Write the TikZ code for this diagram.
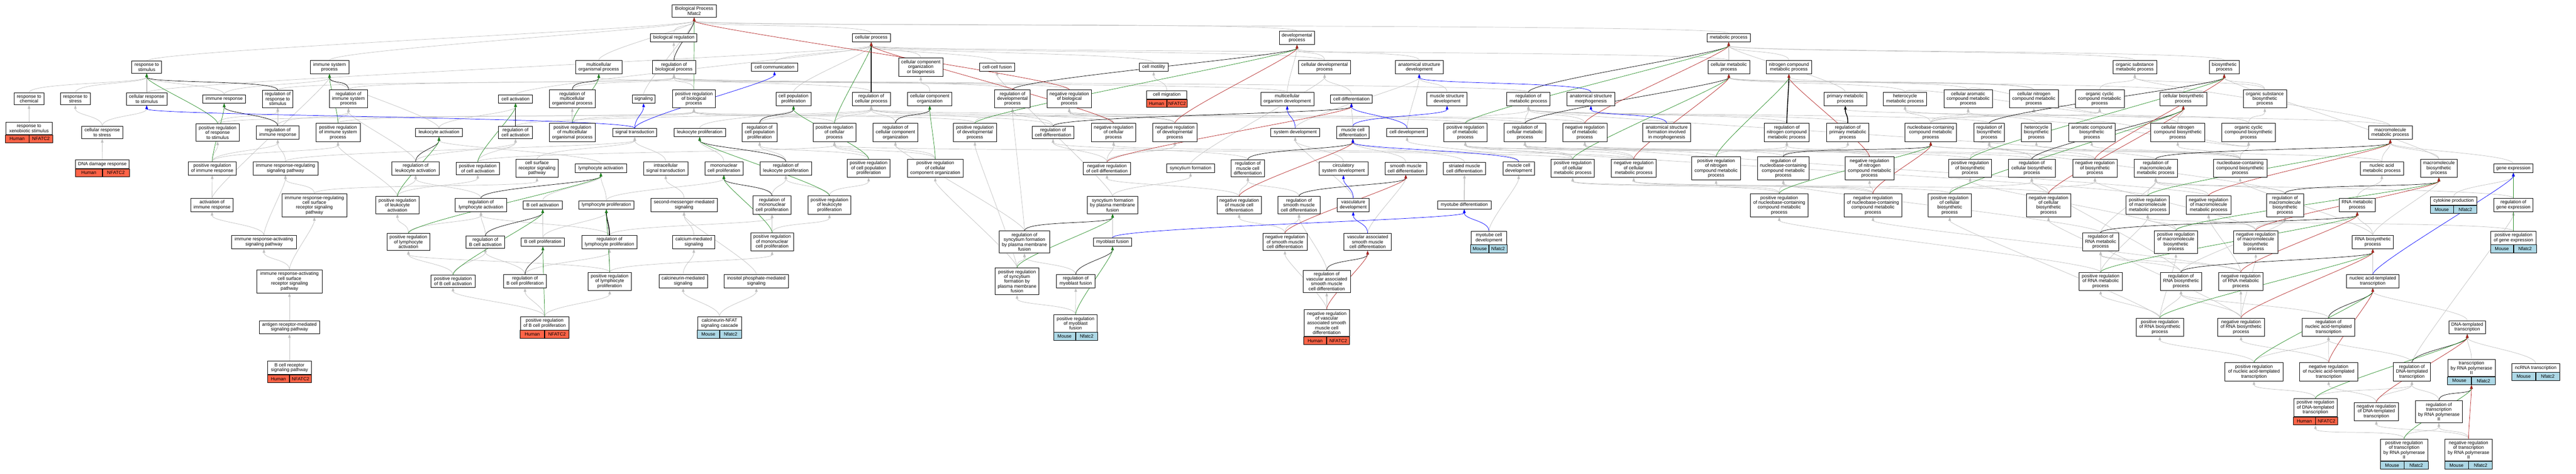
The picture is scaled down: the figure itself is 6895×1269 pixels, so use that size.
\documentclass[tikz,border=0pt]{standalone}
\usepackage{fontspec}
\setmainfont{Liberation Sans}
\usetikzlibrary{arrows.meta,fit}
\definecolor{isagray}{RGB}{192,192,192}
\definecolor{posgreen}{RGB}{34,139,34}
\definecolor{negred}{RGB}{178,34,34}
\definecolor{humanred}{RGB}{255,99,71}
\definecolor{mouseblue}{RGB}{173,216,230}
\newcommand{\gofont}{\fontsize{12.5}{13}\selectfont}
\pgfdeclarelayer{edges}
\pgfsetlayers{edges,main}
\begin{document}
\begin{tikzpicture}[x=1pt,y=1pt,
    term/.style={draw=black, line width=1.1pt, fill=white, align=center, inner xsep=5pt, inner ysep=5.5pt, minimum height=22pt, font=\gofont},
    wd/.style={minimum width=#1pt},
    gcell/.style={draw=black, line width=1.1pt, inner sep=0pt, minimum height=21pt, font=\gofont},
    hcell/.style={gcell, fill=humanred, minimum width=#1pt},
    mcell/.style={gcell, fill=mouseblue, minimum width=#1pt},
    link/.style={line width=1pt, -{Triangle[length=10pt,width=7pt]}},
    isa/.style={link, draw=isagray},
    regby/.style={link, draw=black},
    posreg/.style={link, draw=posgreen},
    negreg/.style={link, draw=negred},
    partof/.style={link, draw=blue}]
\useasboundingbox (0,0) rectangle (6895,-1269);
%Row 0
\node[term, wd=119] (bio_proc) at (1858,-29.5) {Biological Process\\Nfatc2};
%Row 1
\node[term, wd=124] (bio_reg) at (1803.5,-101) {biological regulation};
\node[term, wd=102] (cell_proc) at (2332,-101) {cellular process};
\node[term, wd=95] (development) at (3471.5,-101.5) {developmental\\process};
\node[term, wd=116] (metab_proc) at (4627,-101) {metabolic process};
%Row 2
\node[term, wd=80] (resp_stim) at (392.6,-180) {response to\\stimulus};
\node[term, wd=103] (imm_sys_proc) at (882,-180) {immune system\\process};
\node[term, wd=124] (multicell_org) at (1602.6,-180) {multicellular\\organismal process};
\node[term, wd=115] (reg_bio_proc) at (1804,-180) {regulation of\\biological process};
\node[term, wd=124] (cell_comm) at (2073,-180) {cell communication};
\node[term, wd=119] (cc_org_biogen) at (2464.6,-180) {cellular component\\organization\\or biogenesis};
\node[term, wd=94] (cell_cell_fusion) at (2669,-180) {cell-cell fusion};
\node[term, wd=77] (cell_motility) at (3088,-180) {cell motility};
\node[term, wd=139] (cell_dev_proc) at (3545.4,-180) {cellular developmental\\process};
\node[term, wd=129] (anat_struct_dev) at (3798.7,-180) {anatomical structure\\development};
\node[term, wd=111] (cell_metab) at (4627.4,-180) {cellular metabolic\\process};
\node[term, wd=121] (nitrogen_metab) at (4788.2,-180) {nitrogen compound\\metabolic process};
\node[term, wd=117] (org_subst_metab) at (5714,-180) {organic substance\\metabolic process};
\node[term, wd=80] (biosynth_proc) at (5953.3,-180) {biosynthetic\\process};
%Row 3
\node[term, wd=79] (resp_chem) at (77.7,-265) {response to\\chemical};
\node[term, wd=79] (resp_stress) at (201.7,-265) {response to\\stress};
\node[term, wd=109] (cell_resp_stim) at (392.6,-265) {cellular response\\to stimulus};
\node[term, wd=114] (immune_resp) at (600,-265) {immune response};
\node[term, wd=82] (reg_resp_stim) at (743.4,-265) {regulation of\\response to\\stimulus};
\node[term, wd=103] (reg_imm_sys) at (932.7,-265) {regulation of\\immune system\\process};
\node[term, wd=91] (cell_act) at (1379.9,-265) {cell activation};
\node[term, wd=123] (reg_multicell) at (1531.8,-265) {regulation of\\multicellular\\organismal process};
\node[term, wd=61] (signaling) at (1722.6,-265) {signaling};
\node[term, wd=115] (pos_reg_bio_proc) at (1857.3,-265) {positive regulation\\of biological\\process};
\node[term, wd=94] (cell_pop_prolif) at (2123.9,-265) {cell population\\proliferation};
\node[term, wd=102] (reg_cell_proc) at (2332,-265) {regulation of\\cellular process};
\node[term, wd=119] (cc_org) at (2488.6,-265) {cellular component\\organization};
\node[term, wd=95] (reg_dev_proc) at (2710,-265) {regulation of\\developmental\\process};
\node[term, wd=119] (neg_reg_bio_proc) at (2862,-265) {negative regulation\\of biological\\process};
\node[term, wd=108] (cell_migration) at (3123,-254.5) {cell migration};
\node[hcell=54, anchor=north east] (cell_migration_sp) at (cell_migration.south) {Human};
\node[hcell=54, anchor=north west] (cell_migration_gn) at (cell_migration.south) {NFATC2};
\node[term, wd=142] (multicell_dev) at (3445.4,-265) {multicellular\\organism development};
\node[term, wd=112] (cell_diff) at (3617.3,-265) {cell differentiation};
\node[term, wd=108] (muscle_struct_dev) at (3873.2,-265) {muscle structure\\development};
\node[term, wd=116] (reg_metab) at (4091,-265) {regulation of\\metabolic process};
\node[term, wd=128] (anat_morph) at (4258.3,-265) {anatomical structure\\morphogenesis};
\node[term, wd=114] (primary_metab) at (4939.3,-265) {primary metabolic\\process};
\node[term, wd=116] (heterocycle_metab) at (5099.1,-265) {heterocycle\\metabolic process};
\node[term, wd=130] (cell_arom_metab) at (5267.9,-265) {cellular aromatic\\compound metabolic\\process};
\node[term, wd=131] (cell_nitrogen_metab) at (5443.7,-265) {cellular nitrogen\\compound metabolic\\process};
\node[term, wd=131] (org_cyclic_metab) at (5620,-265) {organic cyclic\\compound metabolic\\process};
\node[term, wd=126] (cell_biosynth) at (5843.8,-265) {cellular biosynthetic\\process};
\node[term, wd=116] (org_subst_biosynth) at (6062,-265) {organic substance\\biosynthetic\\process};
%Row 4
\node[term, wd=125] (resp_xeno) at (77.7,-344) {response to\\xenobiotic stimulus};
\node[hcell=62.5, anchor=north east] (resp_xeno_sp) at (resp_xeno.south) {Human};
\node[hcell=62.5, anchor=north west] (resp_xeno_gn) at (resp_xeno.south) {NFATC2};
\node[term, wd=109] (cell_resp_stress) at (273.6,-355) {cellular response\\to stress};
\node[term, wd=115] (pos_reg_resp_stim) at (582.5,-355) {positive regulation\\of response\\to stimulus};
\node[term, wd=114] (reg_imm_resp) at (743.4,-355) {regulation of\\immune response};
\node[term, wd=119] (pos_reg_imm_sys) at (904.7,-355) {positive regulation\\of immune system\\process};
\node[term, wd=126] (leuk_act) at (1175,-355) {leukocyte activation};
\node[term, wd=91] (reg_cell_act) at (1379.9,-355) {regulation of\\cell activation};
\node[term, wd=123] (pos_reg_multicell) at (1531.8,-355) {positive regulation\\of multicellular\\organismal process};
\node[term, wd=118] (sig_trans) at (1699,-355) {signal transduction};
\node[term, wd=138] (leuk_prolif) at (1872.8,-355) {leukocyte proliferation};
\node[term, wd=94] (reg_cell_pop_prolif) at (2033.3,-355) {regulation of\\cell population\\proliferation};
\node[term, wd=115] (pos_reg_cell_proc) at (2233.5,-355) {positive regulation\\of cellular\\process};
\node[term, wd=119] (reg_cc_org) at (2396.7,-355) {regulation of\\cellular component\\organization};
\node[term, wd=115] (pos_reg_dev) at (2609.5,-355) {positive regulation\\of developmental\\process};
\node[term, wd=112] (reg_cell_diff) at (2818.6,-355) {regulation of\\cell differentiation};
\node[term, wd=119] (neg_reg_cell_proc) at (2980.7,-355) {negative regulation\\of cellular\\process};
\node[term, wd=119] (neg_reg_dev) at (3144.7,-355) {negative regulation\\of developmental\\process};
\node[term, wd=131] (system_dev) at (3466.8,-355) {system development};
\node[term, wd=88] (muscle_cell_diff) at (3621.1,-355) {muscle cell\\differentiation};
\node[term, wd=109] (cell_dev) at (3766.2,-355) {cell development};
\node[term, wd=115] (pos_reg_metab) at (3922.3,-355) {positive regulation\\of metabolic\\process};
\node[term, wd=111] (reg_cell_metab) at (4081.8,-355) {regulation of\\cellular metabolic\\process};
\node[term, wd=119] (neg_reg_metab) at (4241.9,-355) {negative regulation\\of metabolic\\process};
\node[term, wd=128] (anat_form) at (4461.2,-355) {anatomical structure\\formation involved\\in morphogenesis};
\node[term, wd=120] (reg_nitrogen) at (4782.6,-355) {regulation of\\nitrogen compound\\metabolic process};
\node[term, wd=114] (reg_primary) at (4945.8,-355) {regulation of\\primary metabolic\\process};
\node[term, wd=139] (nucleobase_metab) at (5167.7,-355) {nucleobase-containing\\compound metabolic\\process};
\node[term, wd=81] (reg_biosynth) at (5324.3,-355) {regulation of\\biosynthetic\\process};
\node[term, wd=80] (heterocycle_biosynth) at (5450.6,-355) {heterocycle\\biosynthetic\\process};
\node[term, wd=124] (arom_biosynth) at (5598.9,-355) {aromatic compound\\biosynthetic\\process};
\node[term, wd=144] (cell_nitrogen_biosynth) at (5829,-355) {cellular nitrogen\\compound biosynthetic\\process};
\node[term, wd=144] (org_cyclic_biosynth) at (6018.7,-355) {organic cyclic\\compound biosynthetic\\process};
\node[term, wd=117] (macro_metab) at (6397.8,-355) {macromolecule\\metabolic process};
%Row 5
\node[term, wd=143] (dna_damage) at (274,-440) {DNA damage response};
\node[hcell=71.5, anchor=north east] (dna_damage_sp) at (dna_damage.south) {Human};
\node[hcell=71.5, anchor=north west] (dna_damage_gn) at (dna_damage.south) {NFATC2};
\node[term, wd=129] (pos_reg_immune_resp) at (568,-451) {positive regulation\\of immune response};
\node[term, wd=174] (imm_resp_reg_sig) at (764,-451) {immune response-regulating\\signaling pathway};
\node[term, wd=127] (reg_leuk_act) at (1112.5,-451) {regulation of\\leukocyte activation};
\node[term, wd=115] (pos_reg_cell_act) at (1278.8,-451) {positive regulation\\of cell activation};
\node[term, wd=112] (csr_sig) at (1437.3,-451) {cell surface\\receptor signaling\\pathway};
\node[term, wd=138] (lymph_act) at (1608.3,-451) {lymphocyte activation};
\node[term, wd=119] (intracell_sig) at (1782,-451) {intracellular\\signal transduction};
\node[term, wd=102] (mono_prolif) at (1937.5,-451) {mononuclear\\cell proliferation};
\node[term, wd=138] (reg_leuk_prolif) at (2103.4,-451) {regulation of\\leukocyte proliferation};
\node[term, wd=115] (pos_reg_cell_pop) at (2325,-451) {positive regulation\\of cell population\\proliferation};
\node[term, wd=148] (pos_reg_cc_org) at (2503.3,-451) {positive regulation\\of cellular\\component organization};
\node[term, wd=127] (neg_reg_cell_diff) at (2962.9,-451) {negative regulation\\of cell differentiation};
\node[term, wd=129] (syncytium_form) at (3186.6,-451) {syncytium formation};
\node[term, wd=89] (reg_muscle_diff) at (3340,-451) {regulation of\\muscle cell\\differentiation};
\node[term, wd=131] (circ_sys_dev) at (3595.9,-451) {circulatory\\system development};
\node[term, wd=112] (smooth_muscle_diff) at (3762.7,-451) {smooth muscle\\cell differentiation};
\node[term, wd=113] (striated_diff) at (3919.8,-451) {striated muscle\\cell differentiation};
\node[term, wd=84] (muscle_cell_dev) at (4064.8,-451) {muscle cell\\development};
\node[term, wd=116] (pos_reg_cell_metab) at (4209.5,-451) {positive regulation\\of cellular\\metabolic process};
\node[term, wd=119] (neg_reg_cell_metab) at (4372.8,-451) {negative regulation\\of cellular\\metabolic process};
\node[term, wd=131] (pos_reg_nitrogen) at (4593.3,-451) {positive regulation\\of nitrogen\\compound metabolic\\process};
\node[term, wd=139] (reg_nucleobase) at (4773.2,-451) {regulation of\\nucleobase-containing\\compound metabolic\\process};
\node[term, wd=130] (neg_reg_nitrogen) at (5004,-451) {negative regulation\\of nitrogen\\compound metabolic\\process};
\node[term, wd=115] (pos_reg_biosynth_proc) at (5273.2,-451) {positive regulation\\of biosynthetic\\process};
\node[term, wd=126] (reg_cell_biosynth) at (5438.4,-451) {regulation of\\cellular biosynthetic\\process};
\node[term, wd=119] (neg_reg_biosynth) at (5607.3,-451) {negative regulation\\of biosynthetic\\process};
\node[term, wd=116] (reg_macro_metab) at (5770,-451) {regulation of\\macromolecule\\metabolic process};
\node[term, wd=144] (nucleobase_biosynth) at (5996,-451) {nucleobase-containing\\compound biosynthetic\\process};
\node[term, wd=116] (nucleic_acid_metab) at (6375.2,-451) {nucleic acid\\metabolic process};
\node[term, wd=99] (macro_biosynth) at (6527.9,-451) {macromolecule\\biosynthetic\\process};
\node[term, wd=106] (gene_expr) at (6727.3,-451) {gene expression};
%Row 6
\node[term, wd=114] (activation_immune) at (567.5,-549) {activation of\\immune response};
\node[term, wd=174] (imm_resp_reg_csr) at (841.4,-550) {immune response-regulating\\cell surface\\receptor signaling\\pathway};
\node[term, wd=115] (pos_reg_leuk_act) at (1063.7,-549.5) {positive regulation\\of leukocyte\\activation};
\node[term, wd=138] (reg_lymph_act) at (1287.4,-549) {regulation of\\lymphocyte activation};
\node[term, wd=104] (bcell_act) at (1452.6,-549) {B cell activation};
\node[term, wd=148] (lymph_prolif) at (1623,-549) {lymphocyte proliferation};
\node[term, wd=178] (second_msg) at (1831,-549) {second-messenger-mediated\\signaling};
\node[term, wd=102] (reg_mono_prolif) at (2066.6,-549.5) {regulation of\\mononuclear\\cell proliferation};
\node[term, wd=115] (pos_reg_leuk_prolif) at (2220.1,-549.5) {positive regulation\\of leukocyte\\proliferation};
\node[term, wd=135] (syncytium_pm) at (2978,-549.5) {syncytium formation\\by plasma membrane\\fusion};
\node[term, wd=119] (neg_reg_muscle_diff) at (3316.7,-549.5) {negative regulation\\of muscle cell\\differentiation};
\node[term, wd=112] (reg_smooth_diff) at (3477,-549.5) {regulation of\\smooth muscle\\cell differentiation};
\node[term, wd=85] (vasculature_dev) at (3622.1,-549) {vasculature\\development};
\node[term, wd=143] (myotube_diff) at (3919.3,-549) {myotube differentiation};
\node[term, wd=155] (pos_reg_nucleobase) at (4762.3,-550) {positive regulation\\of nucleobase-containing\\compound metabolic\\process};
\node[term, wd=155] (neg_reg_nucleobase) at (5013.2,-550) {negative regulation\\of nucleobase-containing\\compound metabolic\\process};
\node[term, wd=115] (pos_reg_cell_biosynth) at (5218.6,-550) {positive regulation\\of cellular\\biosynthetic\\process};
\node[term, wd=119] (neg_reg_cell_biosynth) at (5483.1,-550) {negative regulation\\of cellular\\biosynthetic\\process};
\node[term, wd=116] (pos_reg_macro_metab) at (5748.5,-549.5) {positive regulation\\of macromolecule\\metabolic process};
\node[term, wd=119] (neg_reg_macro_metab) at (5911.6,-549.5) {negative regulation\\of macromolecule\\metabolic process};
\node[term, wd=99] (reg_macro_biosynth) at (6116,-550) {regulation of\\macromolecule\\biosynthetic\\process};
\node[term, wd=96] (rna_metab) at (6309.4,-549) {RNA metabolic\\process};
\node[term, wd=124] (cytokine) at (6567.3,-538.6) {cytokine production};
\node[mcell=62, anchor=north east] (cytokine_sp) at (cytokine.south) {Mouse};
\node[mcell=62, anchor=north west] (cytokine_gn) at (cytokine.south) {Nfatc2};
\node[term, wd=106] (reg_gene_expr) at (6727.3,-549) {regulation of\\gene expression};
%Row 7
\node[term, wd=173] (imm_resp_act_sig) at (706.5,-648.6) {immune response-activating\\signaling pathway};
\node[term, wd=115] (pos_reg_lymph_act) at (1093.2,-648.2) {positive regulation\\of lymphocyte\\activation};
\node[term, wd=103] (reg_bcell_act) at (1299.1,-648.6) {regulation of\\B cell activation};
\node[term, wd=116] (bcell_prolif) at (1453.1,-648.6) {B cell proliferation};
\node[term, wd=148] (reg_lymph_prolif) at (1631.3,-648.6) {regulation of\\lymphocyte proliferation};
\node[term, wd=113] (calcium_sig) at (1857.1,-648.6) {calcium-mediated\\signaling};
\node[term, wd=115] (pos_reg_mono_prolif) at (2066.6,-648.2) {positive regulation\\of mononuclear\\cell proliferation};
\node[term, wd=135] (reg_syncytium) at (2742.1,-648.6) {regulation of\\syncytium formation\\by plasma membrane\\fusion};
\node[term, wd=103] (myoblast_fusion) at (2977.8,-648.6) {myoblast fusion};
\node[term, wd=119] (neg_reg_smooth) at (3439.3,-648.2) {negative regulation\\of smooth muscle\\cell differentiation};
\node[term, wd=127] (vasc_assoc_smooth) at (3660.6,-648.2) {vascular associated\\smooth muscle\\cell differentiation};
\node[term, wd=96] (myotube_cell_dev) at (3985.3,-637.3) {myotube cell\\development};
\node[mcell=48, anchor=north east] (myotube_cell_dev_sp) at (myotube_cell_dev.south) {Mouse};
\node[mcell=48, anchor=north west] (myotube_cell_dev_gn) at (myotube_cell_dev.south) {Nfatc2};
\node[term, wd=96] (reg_rna_metab) at (5622.5,-648.2) {regulation of\\RNA metabolic\\process};
\node[term, wd=115] (pos_reg_macro_biosynth) at (5824,-648.6) {positive regulation\\of macromolecule\\biosynthetic\\process};
\node[term, wd=119] (neg_reg_macro_biosynth) at (6037.9,-648.6) {negative regulation\\of macromolecule\\biosynthetic\\process};
\node[term, wd=111] (rna_biosynth) at (6351,-648.6) {RNA biosynthetic\\process};
\node[term, wd=122] (pos_reg_gene_expr) at (6727.5,-637.3) {positive regulation\\of gene expression};
\node[mcell=61, anchor=north east] (pos_reg_gene_expr_sp) at (pos_reg_gene_expr.south) {Mouse};
\node[mcell=61, anchor=north west] (pos_reg_gene_expr_gn) at (pos_reg_gene_expr.south) {Nfatc2};
%Row 8
\node[term, wd=174] (imm_resp_act_csr) at (774.8,-753.8) {immune response-activating\\cell surface\\receptor signaling\\pathway};
\node[term, wd=119] (pos_reg_bcell_act) at (1212.5,-753.4) {positive regulation\\of B cell activation};
\node[term, wd=115] (reg_bcell_prolif) at (1405.3,-753.4) {regulation of\\B cell proliferation};
\node[term, wd=115] (pos_reg_lymph_prolif) at (1631.9,-753.8) {positive regulation\\of lymphocyte\\proliferation};
\node[term, wd=130] (calcineurin_sig) at (1828.6,-753.4) {calcineurin-mediated\\signaling};
\node[term, wd=173] (inositol_sig) at (2024.5,-753.4) {inositol phosphate-mediated\\signaling};
\node[term, wd=118] (pos_reg_syncytium) at (2722.2,-753.8) {positive regulation\\of syncytium\\formation by\\plasma membrane\\fusion};
\node[term, wd=103] (reg_myoblast_fusion) at (2879.4,-753.4) {regulation of\\myoblast fusion};
\node[term, wd=127] (reg_vasc) at (3551.1,-753.8) {regulation of\\vascular associated\\smooth muscle\\cell differentiation};
\node[term, wd=115] (pos_reg_rna_metab) at (5622.6,-753.8) {positive regulation\\of RNA metabolic\\process};
\node[term, wd=111] (reg_rna_biosynth) at (5837.7,-753.8) {regulation of\\RNA biosynthetic\\process};
\node[term, wd=119] (neg_reg_rna_metab) at (5997.9,-753.8) {negative regulation\\of RNA metabolic\\process};
\node[term, wd=140] (nucleic_transc) at (6351,-753.4) {nucleic acid-templated\\transcription};
%Row 9
\node[term, wd=161] (antigen_rec) at (774.8,-876.8) {antigen receptor-mediated\\signaling pathway};
\node[term, wd=130] (pos_reg_bcell_prolif) at (1457.7,-866) {positive regulation\\of B cell proliferation};
\node[hcell=65, anchor=north east] (pos_reg_bcell_prolif_sp) at (pos_reg_bcell_prolif.south) {Human};
\node[hcell=65, anchor=north west] (pos_reg_bcell_prolif_gn) at (pos_reg_bcell_prolif.south) {NFATC2};
\node[term, wd=117] (calcineurin_nfat) at (1925.8,-866) {calcineurin-NFAT\\signaling cascade};
\node[mcell=58.5, anchor=north east] (calcineurin_nfat_sp) at (calcineurin_nfat.south) {Mouse};
\node[mcell=58.5, anchor=north west] (calcineurin_nfat_gn) at (calcineurin_nfat.south) {Nfatc2};
\node[term, wd=116] (pos_reg_myoblast) at (2879,-866.3) {positive regulation\\of myoblast\\fusion};
\node[mcell=58, anchor=north east] (pos_reg_myoblast_sp) at (pos_reg_myoblast.south) {Mouse};
\node[mcell=58, anchor=north west] (pos_reg_myoblast_gn) at (pos_reg_myoblast.south) {Nfatc2};
\node[term, wd=122] (neg_reg_vasc) at (3551.1,-865.5) {negative regulation\\of vascular\\associated smooth\\muscle cell\\differentiation};
\node[hcell=61, anchor=north east] (neg_reg_vasc_sp) at (neg_reg_vasc.south) {Human};
\node[hcell=61, anchor=north west] (neg_reg_vasc_gn) at (neg_reg_vasc.south) {NFATC2};
\node[term, wd=126] (pos_reg_rna_biosynth) at (5781,-876.4) {positive regulation\\of RNA biosynthetic\\process};
\node[term, wd=126] (neg_reg_rna_biosynth) at (5998.4,-876.4) {negative regulation\\of RNA biosynthetic\\process};
\node[term, wd=141] (reg_nucleic_transc) at (6232.5,-876.4) {regulation of\\nucleic acid-templated\\transcription};
\node[term, wd=99] (dna_transc) at (6603.8,-876.8) {DNA-templated\\transcription};
%Row 10
\node[term, wd=116] (bcr_sig) at (774.8,-985.7) {B cell receptor\\signaling pathway};
\node[hcell=58, anchor=north east] (bcr_sig_sp) at (bcr_sig.south) {Human};
\node[hcell=58, anchor=north west] (bcr_sig_gn) at (bcr_sig.south) {NFATC2};
\node[term, wd=155] (pos_reg_nucleic_transc) at (6033,-996.2) {positive regulation\\of nucleic acid-templated\\transcription};
\node[term, wd=155] (neg_reg_nucleic_transc) at (6232.9,-996.2) {negative regulation\\of nucleic acid-templated\\transcription};
\node[term, wd=99] (reg_dna_transc) at (6455.7,-996.2) {regulation of\\DNA-templated\\transcription};
\node[term, wd=127] (transc_pol2) at (6615,-985.7) {transcription\\by RNA polymerase\\II};
\node[mcell=63.5, anchor=north east] (transc_pol2_sp) at (transc_pol2.south) {Mouse};
\node[mcell=63.5, anchor=north west] (transc_pol2_gn) at (transc_pol2.south) {Nfatc2};
\node[fit=(transc_pol2)(transc_pol2_sp)(transc_pol2_gn), inner sep=0pt] (transc_pol2_box) {};
\node[term, wd=127] (ncrna) at (6787.2,-985.7) {ncRNA transcription};
\node[mcell=63.5, anchor=north east] (ncrna_sp) at (ncrna.south) {Mouse};
\node[mcell=63.5, anchor=north west] (ncrna_gn) at (ncrna.south) {Nfatc2};
%Row 11
\node[term, wd=117] (pos_reg_dna_transc) at (6197.6,-1092) {positive regulation\\of DNA-templated\\transcription};
\node[hcell=58.5, anchor=north east] (pos_reg_dna_transc_sp) at (pos_reg_dna_transc.south) {Human};
\node[hcell=58.5, anchor=north west] (pos_reg_dna_transc_gn) at (pos_reg_dna_transc.south) {NFATC2};
\node[fit=(pos_reg_dna_transc)(pos_reg_dna_transc_sp)(pos_reg_dna_transc_gn), inner sep=0pt] (pos_reg_dna_transc_box) {};
\node[term, wd=119] (neg_reg_dna_transc) at (6360.5,-1102.6) {negative regulation\\of DNA-templated\\transcription};
\node[term, wd=126] (reg_transc_pol2) at (6527.9,-1103.4) {regulation of\\transcription\\by RNA polymerase\\II};
%Row 12
\node[term, wd=127] (pos_reg_transc_pol2) at (6435,-1205.8) {positive regulation\\of transcription\\by RNA polymerase\\II};
\node[mcell=63.5, anchor=north east] (pos_reg_transc_pol2_sp) at (pos_reg_transc_pol2.south) {Mouse};
\node[mcell=63.5, anchor=north west] (pos_reg_transc_pol2_gn) at (pos_reg_transc_pol2.south) {Nfatc2};
\node[term, wd=127] (neg_reg_transc_pol2) at (6607.3,-1205.8) {negative regulation\\of transcription\\by RNA polymerase\\II};
\node[mcell=63.5, anchor=north east] (neg_reg_transc_pol2_sp) at (neg_reg_transc_pol2.south) {Mouse};
\node[mcell=63.5, anchor=north west] (neg_reg_transc_pol2_gn) at (neg_reg_transc_pol2.south) {Nfatc2};

\begin{pgfonlayer}{edges}
%is_a
\foreach \src/\dst in {bio_reg/bio_proc,resp_stim/bio_proc,imm_sys_proc/bio_proc,multicell_org/bio_proc,cell_proc/bio_proc,development/bio_proc,metab_proc/bio_proc,signaling/bio_proc,
  resp_chem/resp_stim,resp_xeno/resp_chem,resp_stress/resp_stim,cell_resp_stress/resp_stress,cell_resp_stress/cell_resp_stim,dna_damage/cell_resp_stress,cell_resp_stim/cell_proc,immune_resp/resp_stim,immune_resp/imm_sys_proc,
  reg_resp_stim/reg_bio_proc,reg_imm_resp/reg_resp_stim,reg_imm_resp/reg_imm_sys,pos_reg_resp_stim/reg_resp_stim,pos_reg_resp_stim/pos_reg_bio_proc,pos_reg_immune_resp/pos_reg_resp_stim,pos_reg_immune_resp/reg_imm_resp,pos_reg_immune_resp/pos_reg_imm_sys,activation_immune/pos_reg_immune_resp,activation_immune/imm_sys_proc,
  reg_imm_sys/reg_bio_proc,pos_reg_imm_sys/reg_imm_sys,pos_reg_imm_sys/pos_reg_bio_proc,
  imm_resp_reg_sig/reg_imm_resp,imm_resp_reg_sig/sig_trans,imm_resp_reg_csr/imm_resp_reg_sig,imm_resp_reg_csr/csr_sig,imm_resp_act_sig/activation_immune,imm_resp_act_sig/imm_resp_reg_sig,imm_resp_act_csr/imm_resp_act_sig,imm_resp_act_csr/imm_resp_reg_csr,antigen_rec/imm_resp_act_csr,bcr_sig/antigen_rec,
  leuk_act/imm_sys_proc,leuk_act/cell_act,reg_leuk_act/reg_imm_sys,reg_leuk_act/reg_cell_act,pos_reg_leuk_act/reg_leuk_act,pos_reg_leuk_act/pos_reg_imm_sys,pos_reg_leuk_act/pos_reg_cell_act,lymph_act/leuk_act,reg_lymph_act/reg_leuk_act,pos_reg_lymph_act/reg_lymph_act,pos_reg_lymph_act/pos_reg_leuk_act,bcell_act/lymph_act,reg_bcell_act/reg_lymph_act,pos_reg_bcell_act/reg_bcell_act,pos_reg_bcell_act/pos_reg_lymph_act,
  cell_act/cell_proc,reg_cell_act/reg_cell_proc,pos_reg_cell_act/reg_cell_act,pos_reg_cell_act/pos_reg_cell_proc,reg_multicell/reg_bio_proc,pos_reg_multicell/reg_multicell,pos_reg_multicell/pos_reg_bio_proc,
  csr_sig/sig_trans,intracell_sig/sig_trans,second_msg/intracell_sig,calcium_sig/second_msg,calcineurin_sig/calcium_sig,inositol_sig/second_msg,calcineurin_nfat/calcineurin_sig,calcineurin_nfat/inositol_sig,
  lymph_prolif/lymph_act,lymph_prolif/mono_prolif,reg_lymph_prolif/reg_lymph_act,reg_lymph_prolif/reg_mono_prolif,pos_reg_lymph_prolif/reg_lymph_prolif,pos_reg_lymph_prolif/pos_reg_lymph_act,pos_reg_lymph_prolif/pos_reg_mono_prolif,bcell_prolif/bcell_act,bcell_prolif/lymph_prolif,reg_bcell_prolif/reg_bcell_act,reg_bcell_prolif/reg_lymph_prolif,pos_reg_bcell_prolif/reg_bcell_prolif,pos_reg_bcell_prolif/pos_reg_bcell_act,pos_reg_bcell_prolif/pos_reg_lymph_prolif,
  mono_prolif/leuk_prolif,leuk_prolif/cell_pop_prolif,reg_leuk_prolif/reg_cell_pop_prolif,pos_reg_leuk_prolif/reg_leuk_prolif,pos_reg_leuk_prolif/pos_reg_cell_pop,reg_mono_prolif/reg_leuk_prolif,pos_reg_mono_prolif/reg_mono_prolif,pos_reg_mono_prolif/pos_reg_leuk_prolif,cell_pop_prolif/cell_proc,reg_cell_pop_prolif/reg_cell_proc,pos_reg_cell_pop/reg_cell_pop_prolif,pos_reg_cell_pop/pos_reg_cell_proc,
  reg_cell_proc/reg_bio_proc,pos_reg_cell_proc/reg_cell_proc,pos_reg_cell_proc/pos_reg_bio_proc,neg_reg_cell_proc/reg_cell_proc,neg_reg_cell_proc/neg_reg_bio_proc,neg_reg_bio_proc/reg_bio_proc,pos_reg_bio_proc/reg_bio_proc,reg_bio_proc/bio_reg,cell_comm/cell_proc,cc_org_biogen/cell_proc,cc_org/cc_org_biogen,reg_cc_org/reg_cell_proc,pos_reg_cc_org/reg_cc_org,pos_reg_cc_org/pos_reg_cell_proc,
  cell_cell_fusion/cell_proc,syncytium_form/cell_dev_proc,syncytium_pm/syncytium_form,syncytium_pm/cell_cell_fusion,myoblast_fusion/syncytium_pm,reg_syncytium/reg_cc_org,reg_syncytium/reg_dev_proc,pos_reg_syncytium/reg_syncytium,pos_reg_syncytium/pos_reg_cc_org,pos_reg_syncytium/pos_reg_dev,reg_myoblast_fusion/reg_syncytium,pos_reg_myoblast/reg_myoblast_fusion,pos_reg_myoblast/pos_reg_syncytium,
  reg_dev_proc/reg_bio_proc,pos_reg_dev/reg_dev_proc,pos_reg_dev/pos_reg_bio_proc,neg_reg_dev/reg_dev_proc,neg_reg_dev/neg_reg_bio_proc,reg_cell_diff/reg_dev_proc,reg_cell_diff/reg_cell_proc,neg_reg_cell_diff/reg_cell_diff,neg_reg_cell_diff/neg_reg_dev,neg_reg_cell_diff/neg_reg_cell_proc,
  cell_motility/cell_proc,cell_migration/cell_motility,cell_dev_proc/development,cell_dev_proc/cell_proc,multicell_dev/development,multicell_dev/multicell_org,system_dev/anat_struct_dev,anat_struct_dev/development,cell_diff/cell_dev_proc,cell_dev/anat_struct_dev,muscle_struct_dev/anat_struct_dev,muscle_cell_diff/cell_diff,muscle_cell_dev/cell_dev,
  circ_sys_dev/system_dev,smooth_muscle_diff/muscle_cell_diff,striated_diff/muscle_cell_diff,vasculature_dev/system_dev,myotube_cell_dev/muscle_cell_dev,vasc_assoc_smooth/smooth_muscle_diff,reg_smooth_diff/reg_muscle_diff,neg_reg_smooth/reg_smooth_diff,neg_reg_smooth/neg_reg_muscle_diff,reg_muscle_diff/reg_cell_diff,neg_reg_muscle_diff/reg_muscle_diff,neg_reg_muscle_diff/neg_reg_cell_diff,reg_vasc/reg_smooth_diff,neg_reg_vasc/reg_vasc,neg_reg_vasc/neg_reg_smooth,
  cell_metab/cell_proc,reg_metab/reg_bio_proc,pos_reg_metab/reg_metab,pos_reg_metab/pos_reg_bio_proc,neg_reg_metab/reg_metab,neg_reg_metab/neg_reg_bio_proc,reg_cell_metab/reg_metab,reg_cell_metab/reg_cell_proc,pos_reg_cell_metab/reg_cell_metab,pos_reg_cell_metab/pos_reg_metab,pos_reg_cell_metab/pos_reg_cell_proc,neg_reg_cell_metab/reg_cell_metab,neg_reg_cell_metab/neg_reg_metab,neg_reg_cell_metab/neg_reg_cell_proc,
  nitrogen_metab/metab_proc,primary_metab/metab_proc,reg_nitrogen/reg_metab,pos_reg_nitrogen/reg_nitrogen,pos_reg_nitrogen/pos_reg_metab,neg_reg_nitrogen/reg_nitrogen,neg_reg_nitrogen/neg_reg_metab,reg_primary/reg_metab,heterocycle_metab/cell_metab,heterocycle_metab/org_cyclic_metab,cell_arom_metab/cell_metab,cell_arom_metab/org_cyclic_metab,cell_nitrogen_metab/nitrogen_metab,cell_nitrogen_metab/cell_metab,org_cyclic_metab/org_subst_metab,org_subst_metab/metab_proc,
  nucleobase_metab/heterocycle_metab,nucleobase_metab/cell_arom_metab,nucleobase_metab/cell_nitrogen_metab,nucleobase_metab/org_cyclic_metab,reg_nucleobase/reg_nitrogen,reg_nucleobase/reg_cell_metab,reg_nucleobase/reg_primary,pos_reg_nucleobase/reg_nucleobase,pos_reg_nucleobase/pos_reg_nitrogen,pos_reg_nucleobase/pos_reg_cell_metab,neg_reg_nucleobase/reg_nucleobase,neg_reg_nucleobase/neg_reg_nitrogen,neg_reg_nucleobase/neg_reg_cell_metab,
  biosynth_proc/metab_proc,cell_biosynth/biosynth_proc,cell_biosynth/cell_metab,org_subst_biosynth/biosynth_proc,org_subst_biosynth/org_subst_metab,reg_biosynth/reg_metab,heterocycle_biosynth/heterocycle_metab,heterocycle_biosynth/org_cyclic_biosynth,arom_biosynth/cell_arom_metab,arom_biosynth/org_cyclic_biosynth,cell_nitrogen_biosynth/cell_nitrogen_metab,cell_nitrogen_biosynth/cell_biosynth,org_cyclic_biosynth/org_cyclic_metab,org_cyclic_biosynth/org_subst_biosynth,
  nucleobase_biosynth/nucleobase_metab,nucleobase_biosynth/heterocycle_biosynth,nucleobase_biosynth/arom_biosynth,nucleobase_biosynth/cell_nitrogen_biosynth,nucleobase_biosynth/org_cyclic_biosynth,pos_reg_biosynth_proc/reg_biosynth,pos_reg_biosynth_proc/pos_reg_metab,reg_cell_biosynth/reg_biosynth,reg_cell_biosynth/reg_cell_metab,neg_reg_biosynth/reg_biosynth,neg_reg_biosynth/neg_reg_metab,
  pos_reg_cell_biosynth/reg_cell_biosynth,pos_reg_cell_biosynth/pos_reg_biosynth_proc,pos_reg_cell_biosynth/pos_reg_cell_metab,neg_reg_cell_biosynth/reg_cell_biosynth,neg_reg_cell_biosynth/neg_reg_biosynth,neg_reg_cell_biosynth/neg_reg_cell_metab,
  macro_metab/primary_metab,macro_metab/org_subst_metab,reg_macro_metab/reg_metab,pos_reg_macro_metab/reg_macro_metab,pos_reg_macro_metab/pos_reg_metab,neg_reg_macro_metab/reg_macro_metab,neg_reg_macro_metab/neg_reg_metab,nucleic_acid_metab/macro_metab,nucleic_acid_metab/nucleobase_metab,macro_biosynth/macro_metab,macro_biosynth/biosynth_proc,gene_expr/macro_metab,rna_metab/nucleic_acid_metab,
  reg_macro_biosynth/reg_macro_metab,reg_macro_biosynth/reg_biosynth,pos_reg_macro_biosynth/reg_macro_biosynth,pos_reg_macro_biosynth/pos_reg_macro_metab,pos_reg_macro_biosynth/pos_reg_biosynth_proc,neg_reg_macro_biosynth/reg_macro_biosynth,neg_reg_macro_biosynth/neg_reg_macro_metab,neg_reg_macro_biosynth/neg_reg_biosynth,
  reg_rna_metab/reg_nucleobase,reg_rna_metab/reg_macro_metab,pos_reg_rna_metab/reg_rna_metab,pos_reg_rna_metab/pos_reg_nucleobase,pos_reg_rna_metab/pos_reg_macro_metab,neg_reg_rna_metab/reg_rna_metab,neg_reg_rna_metab/neg_reg_nucleobase,neg_reg_rna_metab/neg_reg_macro_metab,
  rna_biosynth/rna_metab,rna_biosynth/macro_biosynth,rna_biosynth/nucleobase_biosynth,reg_rna_biosynth/reg_rna_metab,reg_rna_biosynth/reg_cell_biosynth,reg_rna_biosynth/reg_macro_biosynth,pos_reg_rna_biosynth/reg_rna_biosynth,pos_reg_rna_biosynth/pos_reg_rna_metab,pos_reg_rna_biosynth/pos_reg_cell_biosynth,pos_reg_rna_biosynth/pos_reg_macro_biosynth,
  neg_reg_rna_biosynth/reg_rna_biosynth,neg_reg_rna_biosynth/neg_reg_rna_metab,neg_reg_rna_biosynth/neg_reg_cell_biosynth,neg_reg_rna_biosynth/neg_reg_macro_biosynth,
  reg_nucleic_transc/reg_rna_biosynth,pos_reg_nucleic_transc/reg_nucleic_transc,pos_reg_nucleic_transc/pos_reg_rna_biosynth,neg_reg_nucleic_transc/reg_nucleic_transc,neg_reg_nucleic_transc/neg_reg_rna_biosynth,dna_transc/nucleic_transc,reg_dna_transc/reg_nucleic_transc,reg_dna_transc/reg_gene_expr,
  pos_reg_dna_transc/pos_reg_nucleic_transc,pos_reg_dna_transc/reg_dna_transc,neg_reg_dna_transc/neg_reg_nucleic_transc,neg_reg_dna_transc/reg_dna_transc,transc_pol2/dna_transc,ncrna/dna_transc,reg_transc_pol2/reg_dna_transc,pos_reg_transc_pol2/reg_transc_pol2,pos_reg_transc_pol2/pos_reg_dna_transc_box,neg_reg_transc_pol2/reg_transc_pol2,neg_reg_transc_pol2/neg_reg_dna_transc,
  reg_gene_expr/reg_macro_metab,pos_reg_gene_expr/reg_gene_expr,pos_reg_gene_expr/pos_reg_macro_metab,cytokine/gene_expr}
  \draw[isa] (\src.north) .. controls +(0,28) and +(0,-28) .. (\dst.south);
\foreach \src/\dst in {cell_resp_stim/resp_stim,myotube_diff/striated_diff,cell_metab/metab_proc,nucleic_transc/rna_biosynth}
  \draw[isa, line width=2.2pt] (\src.north) .. controls +(0,28) and +(0,-28) .. (\dst.south);
%regulates
\foreach \src/\dst in {reg_bio_proc/bio_proc,reg_resp_stim/resp_stim,reg_imm_resp/immune_resp,reg_imm_sys/imm_sys_proc,reg_leuk_act/leuk_act,reg_lymph_act/lymph_act,reg_bcell_act/bcell_act,reg_multicell/multicell_org,reg_bcell_prolif/bcell_prolif,reg_leuk_prolif/leuk_prolif,reg_mono_prolif/mono_prolif,reg_cell_pop_prolif/cell_pop_prolif,reg_cc_org/cc_org,reg_syncytium/syncytium_pm,reg_myoblast_fusion/myoblast_fusion,reg_dev_proc/development,reg_cell_diff/cell_diff,reg_muscle_diff/muscle_cell_diff,reg_smooth_diff/smooth_muscle_diff,reg_vasc/vasc_assoc_smooth,
  reg_metab/metab_proc,reg_cell_metab/cell_metab,reg_nucleobase/nucleobase_metab,reg_biosynth/biosynth_proc,reg_cell_biosynth/cell_biosynth,reg_macro_metab/macro_metab,reg_macro_biosynth/macro_biosynth,reg_rna_metab/rna_metab,reg_rna_biosynth/rna_biosynth,reg_nucleic_transc/nucleic_transc,reg_dna_transc/dna_transc,reg_transc_pol2/transc_pol2_box}
  \draw[regby] (\src.north) .. controls +(0,28) and +(0,-28) .. (\dst.south);
\foreach \src/\dst in {reg_cell_proc/cell_proc,reg_cell_act/cell_act,reg_gene_expr/gene_expr,reg_lymph_prolif/lymph_prolif,reg_nitrogen/nitrogen_metab,reg_primary/primary_metab}
  \draw[regby, line width=2.2pt] (\src.north) .. controls +(0,28) and +(0,-28) .. (\dst.south);
%positively regulates
\foreach \src/\dst in {pos_reg_bio_proc/bio_proc,pos_reg_resp_stim/resp_stim,pos_reg_immune_resp/immune_resp,pos_reg_imm_sys/imm_sys_proc,pos_reg_leuk_act/leuk_act,pos_reg_lymph_act/lymph_act,pos_reg_bcell_act/bcell_act,pos_reg_cell_act/cell_act,pos_reg_multicell/multicell_org,pos_reg_lymph_prolif/lymph_prolif,pos_reg_bcell_prolif/bcell_prolif,pos_reg_leuk_prolif/leuk_prolif,pos_reg_mono_prolif/mono_prolif,pos_reg_cell_pop/cell_pop_prolif,pos_reg_cell_proc/cell_proc,pos_reg_cc_org/cc_org,pos_reg_syncytium/syncytium_pm,pos_reg_myoblast/myoblast_fusion,pos_reg_dev/development,
  pos_reg_metab/metab_proc,pos_reg_cell_metab/cell_metab,pos_reg_nitrogen/nitrogen_metab,pos_reg_nucleobase/nucleobase_metab,pos_reg_biosynth_proc/biosynth_proc,pos_reg_cell_biosynth/cell_biosynth,pos_reg_macro_metab/macro_metab,pos_reg_macro_biosynth/macro_biosynth,pos_reg_rna_metab/rna_metab,pos_reg_rna_biosynth/rna_biosynth,pos_reg_nucleic_transc/nucleic_transc,pos_reg_dna_transc/dna_transc,pos_reg_transc_pol2/transc_pol2_box,pos_reg_gene_expr/gene_expr}
  \draw[posreg] (\src.north) .. controls +(0,28) and +(0,-28) .. (\dst.south);
%negatively regulates
\foreach \src/\dst in {neg_reg_bio_proc/bio_proc,neg_reg_cell_proc/cell_proc,neg_reg_dev/development,neg_reg_cell_diff/cell_diff,neg_reg_muscle_diff/muscle_cell_diff,neg_reg_smooth/smooth_muscle_diff,neg_reg_vasc/vasc_assoc_smooth,neg_reg_metab/metab_proc,neg_reg_cell_metab/cell_metab,neg_reg_nitrogen/nitrogen_metab,neg_reg_nucleobase/nucleobase_metab,neg_reg_biosynth/biosynth_proc,neg_reg_cell_biosynth/cell_biosynth,
  neg_reg_macro_metab/macro_metab,neg_reg_macro_biosynth/macro_biosynth,neg_reg_rna_metab/rna_metab,neg_reg_rna_biosynth/rna_biosynth,neg_reg_nucleic_transc/nucleic_transc,neg_reg_dna_transc/dna_transc,neg_reg_transc_pol2/transc_pol2_box}
  \draw[negreg] (\src.north) .. controls +(0,28) and +(0,-28) .. (\dst.south);
%part of
\foreach \src/\dst in {sig_trans/signaling,sig_trans/cell_comm,sig_trans/cell_resp_stim,myoblast_fusion/myotube_diff,system_dev/multicell_dev,cell_dev/cell_diff,muscle_cell_diff/muscle_struct_dev,muscle_cell_dev/muscle_cell_diff,vasculature_dev/circ_sys_dev,vasc_assoc_smooth/vasculature_dev,myotube_cell_dev/myotube_diff,anat_morph/anat_struct_dev,anat_form/anat_morph,nucleic_transc/gene_expr}
  \draw[partof] (\src.north) .. controls +(0,28) and +(0,-28) .. (\dst.south);
\end{pgfonlayer}
\end{tikzpicture}
\end{document}
